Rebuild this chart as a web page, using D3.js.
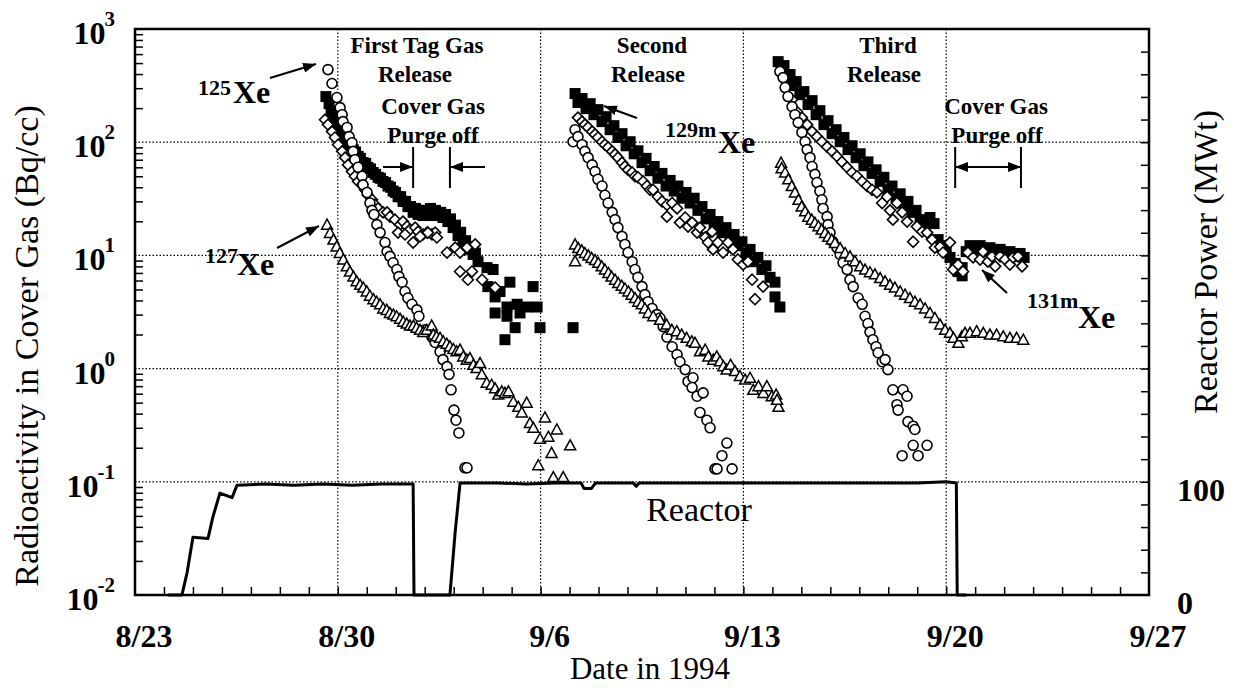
<!DOCTYPE html>
<html>
<head>
<meta charset="utf-8">
<script src="https://cdn.jsdelivr.net/npm/d3@7"></script>
<style>
  body { margin: 0; background: #fff; }
  text { font-family: "Liberation Serif", "Times New Roman", serif; fill: #000; }
</style>
</head>
<body>
<svg id="chart" width="1236" height="688"></svg>
<script>
// axis ticks
const xTickDays = [0, 7, 14, 21, 28, 35];
const xTickLabels = ["8/23", "8/30", "9/6", "9/13", "9/20", "9/27"];
const yTickValues = [0.01, 0.1, 1, 10, 100, 1000];
const yTickExps = ["-2", "-1", "0", "1", "2", "3"];
const powerTickValues = [0, 100];

// day counted from 8/23 0:00, activity in Bq/cc
// 125Xe (open circles)
const xe125 = [
  [6.66,438],[6.80,330],[6.97,248],[7.08,202],[7.15,175],[7.18,152],[7.32,135],[7.39,112],[7.49,99],[7.53,83],
  [7.59,70],[7.70,60],[7.84,50],[7.87,42],[8.01,36],[8.11,29],[8.18,25],[8.25,23],[8.35,18.7],[8.46,15.9],
  [8.63,13],[8.70,10.8],[8.80,9.8],[8.91,8.6],[9.04,7.5],[9.11,6.5],[9.22,5.8],[9.32,4.8],[9.42,4.2],[9.56,3.7],
  [9.73,3.3],[9.80,2.9],[10.01,2.2],[10.25,1.9],[10.36,1.7],[10.53,1.41],[10.63,1.2],[10.77,1.04],[10.84,0.89],
  [10.91,0.65],[11.01,0.43],[11.08,0.35],[11.18,0.27],[11.39,0.133],[11.46,0.133],
  [15.19,129],[15.12,101],[15.29,112],[15.43,95],[15.53,83],[15.64,73],[15.78,63],[15.88,55],[15.98,47],[16.12,41],
  [16.22,34],[16.33,29],[16.47,24],[16.57,20.7],[16.67,17.6],[16.81,14.7],[16.91,12.5],[17.02,10.6],[17.16,8.8],
  [17.26,7.5],[17.36,6.4],[17.50,5.3],[17.60,4.5],[17.71,3.9],[17.85,3.4],[18.02,3.0],[18.12,2.8],[18.23,2.35],
  [18.36,1.9],[18.54,1.56],[18.71,1.33],[18.81,1.15],[18.99,0.98],[19.09,0.77],[19.26,0.83],[19.23,0.68],[19.40,0.57],
  [19.61,0.61],[19.50,0.41],[19.74,0.35],[19.85,0.30],[20.43,0.22],[20.26,0.17],[20.02,0.13],[20.09,0.13],[20.61,0.13],
  [22.26,421],[22.37,372],[22.44,304],[22.54,253],[22.68,206],[22.78,175],[22.89,149],[23.02,122],[23.13,101],[23.20,86],
  [23.30,73],[23.37,61],[23.47,52],[23.54,44],[23.64,37],[23.71,31],[23.75,26],[23.89,22],[23.92,18.7],[23.99,15.9],
  [24.09,13.2],[24.23,11.7],[24.34,10.2],[24.44,8.6],[24.58,7.5],[24.68,6.1],[24.79,5.3],[24.96,4.2],[25.10,3.7],
  [25.20,2.9],[25.30,2.5],[25.37,2.1],[25.47,1.8],[25.58,1.56],[25.65,1.38],[25.79,1.15],[25.89,1.2],[25.99,0.98],
  [26.16,0.65],[26.51,0.65],[26.65,0.57],[26.30,0.48],[26.34,0.43],[26.68,0.34],[26.86,0.31],[26.92,0.29],
  [26.86,0.21],[27.34,0.21],[26.48,0.17],[27.03,0.17]
];

// 127Xe (open triangles)
const xe127 = [
  [6.63,18.7],[6.73,15.8],[6.85,13.8],[6.96,12.0],[7.07,10.5],[7.19,9.2],[7.31,8.0],[7.42,7.2],[7.54,6.5],[7.65,5.9],
  [7.77,5.5],[7.88,5.2],[8.00,4.8],[8.11,4.4],[8.23,4.1],[8.34,3.9],[8.46,3.7],[8.57,3.4],[8.69,3.3],[8.80,3.1],
  [8.92,3.0],[9.03,2.9],[9.15,2.75],[9.26,2.6],[9.38,2.5],[9.49,2.4],[9.61,2.4],[9.72,2.3],[9.84,2.2],[9.95,2.1],
  [10.07,2.2],[10.24,2.4],[10.30,2.0],[10.41,1.93],[10.53,1.87],[10.64,1.74],[10.76,1.66],[10.87,1.57],[10.99,1.49],
  [11.10,1.42],[11.22,1.47],[11.33,1.28],[11.45,1.2],[11.56,1.24],[11.68,1.08],[11.79,1.01],[11.91,1.12],[11.97,0.89],
  [12.14,0.75],[12.31,0.72],[12.43,0.67],[12.54,0.59],[12.66,0.63],[12.77,0.61],[12.89,0.63],[13.06,0.51],[13.23,0.46],
  [13.35,0.41],[13.52,0.50],[13.63,0.33],[13.75,0.30],[13.98,0.24],[14.15,0.37],[14.27,0.25],[14.38,0.18],[14.56,0.29],
  [15.02,0.21],[13.92,0.14],[14.44,0.11],[14.78,0.11],
  [15.19,12.5],[15.19,8.9],[15.30,11.6],[15.42,11.1],[15.53,10.5],[15.65,10.0],[15.76,9.5],[15.88,9.1],[15.99,8.6],
  [16.11,8.0],[16.22,7.5],[16.34,7.0],[16.45,6.5],[16.57,6.1],[16.68,5.7],[16.80,5.4],[16.91,5.1],[17.03,4.8],
  [17.14,4.5],[17.26,4.2],[17.37,3.9],[17.49,3.7],[17.60,3.4],[17.72,3.1],[17.89,2.9],[18.12,2.7],[18.35,2.45],
  [18.53,2.2],[18.70,2.14],[18.87,2.0],[19.04,1.87],[19.22,1.74],[19.33,1.69],[19.50,1.42],[19.68,1.47],[19.79,1.28],
  [19.96,1.2],[20.08,1.28],[20.19,1.16],[20.31,1.05],[20.42,0.98],[20.56,1.08],[20.71,0.95],[20.88,0.86],[21.06,0.80],
  [21.23,0.83],[21.34,0.65],[21.52,0.70],[21.69,0.61],[21.81,0.70],[21.98,0.57],[22.13,0.59],[22.21,0.46],[22.16,0.53],
  [22.30,66],[22.32,59],[22.44,54],[22.55,47],[22.67,41],[22.78,36],[22.90,31],[23.01,27],[23.13,24.5],[23.24,22],
  [23.36,20.7],[23.47,19.4],[23.59,18.1],[23.70,16.9],[23.82,15.8],[23.93,14.6],[24.05,13.8],[24.16,12.9],[24.34,11.6],
  [24.51,10.5],[24.68,9.8],[24.85,8.9],[25.03,8.0],[25.20,7.5],[25.37,7.1],[25.54,6.8],[25.72,6.3],[25.89,5.9],
  [26.06,5.5],[26.23,5.2],[26.41,4.8],[26.58,4.5],[26.75,4.2],[26.92,3.9],[27.10,3.7],[27.27,3.4],[27.44,3.1],
  [27.61,2.8],[27.79,2.45],[27.96,2.2],[28.13,2.07],[28.25,1.87],[28.42,1.69],[28.54,1.93],[28.65,2.07],[28.82,2.07],
  [29.05,2.14],[29.28,2.07],[29.51,2.0],[29.74,2.0],[29.97,1.93],[30.20,1.87],[30.43,1.87],[30.66,1.8]
];

// 129mXe (filled squares)
const xe129m = [
  [6.59,253],[6.70,219],[6.77,186],[6.87,165],[7.01,143],[7.10,130],[7.18,117],[7.27,112],[7.35,99],[7.44,95],
  [7.53,86],[7.61,82],[7.70,75],[7.78,72],[7.87,66],[7.96,65],[8.04,60],[8.13,58],[8.22,54],[8.30,52],[8.39,49],
  [8.47,48],[8.56,45],[8.65,44],[8.73,41],[8.82,40],[8.91,37],[8.99,36],[9.08,33],[9.17,33],[9.25,30],[9.34,30],
  [9.42,27],[9.51,27],[9.60,24],[9.68,26],[9.77,23],[9.86,25],[9.94,22.5],[10.03,25],[10.11,22.5],[10.20,26],
  [10.29,23],[10.37,25],[10.46,22.5],[10.55,24],[10.63,21.6],[10.72,23],[10.80,19.9],[10.89,21],[10.98,17.6],
  [11.06,18.5],[11.15,15],[11.24,16],[11.32,13],[11.41,13.5],[11.49,11.3],[11.58,12],[11.67,10.2],[11.75,10.5],
  [11.84,8.8],[12.15,7.8],[12.36,7.5],[12.18,5.3],[12.43,4.3],[12.60,4.8],[12.94,5.8],[13.74,5.3],[12.84,3.5],
  [13.19,3.7],[13.53,3.5],[13.88,3.5],[12.43,3.1],[12.84,2.9],[13.29,3.1],[13.12,2.3],[13.98,2.3],[12.77,1.8],[15.12,2.3],
  [15.19,269],[15.29,224],[15.43,243],[15.57,198],[15.71,219],[15.84,175],[15.98,194],[16.12,152],[16.26,168],
  [16.40,129],[16.53,140],[16.67,110],[16.81,119],[16.95,93],[17.09,101],[17.23,79],[17.36,84],[17.50,66],[17.64,72],
  [17.78,56],[17.92,61],[18.05,48],[18.19,53],[18.33,41],[18.47,46],[18.61,37],[18.74,41],[18.88,32],[19.02,36],
  [19.16,29],[19.30,32],[19.43,25],[19.57,27],[19.71,21],[19.85,23],[19.99,18.3],[20.12,19.9],[20.26,15.9],[20.40,17.6],
  [20.54,14.1],[20.68,15.3],[20.81,12.2],[20.95,13.2],[21.09,10.4],[21.23,11.3],[21.37,8.8],[21.50,9.6],[21.64,7.5],
  [21.78,8.1],[21.92,6.4],[22.09,5.8],[22.09,4.3],[22.26,3.5],
  [22.20,515],[22.30,438],[22.40,475],[22.51,372],[22.61,396],[22.71,316],[22.82,343],[22.95,263],[23.09,280],
  [23.23,215],[23.37,233],[23.51,175],[23.64,190],[23.78,143],[23.92,155],[24.06,119],[24.20,129],[24.34,101],
  [24.47,110],[24.61,86],[24.75,93],[24.89,73],[25.03,79],[25.16,62],[25.30,67],[25.44,53],[25.58,57],[25.72,45],
  [25.85,49],[25.99,38],[26.13,41],[26.27,32],[26.41,35],[26.54,28],[26.68,30],[26.82,24],[26.96,25],[27.10,20.7],
  [27.23,19.1],[27.44,21.6],[27.58,19.1],[27.72,13.8],[27.86,12.2],[28.00,10.8],[28.13,9.6],[28.31,8.5],[28.41,7.2],
  [28.55,7.8],[28.55,6.6],[28.69,10.8],[28.82,12.2],[29.00,11.3],[29.17,12.2],[29.34,10.8],[29.51,11.7],[29.69,10.4],
  [29.86,11.3],[30.03,10],[30.20,10.8],[30.38,9.8],[30.55,10.4],[30.69,9.6]
];

// 131mXe (open diamonds)
const xe131m = [
  [6.56,158],[6.66,143],[6.80,124],[6.90,110],[7.01,95],[7.15,83],[7.25,73],[7.35,63],[7.49,55],[7.59,50],[7.70,45],
  [7.84,42],[7.94,38],[8.04,34],[8.18,31],[8.28,28],[8.39,26],[8.56,24],[8.70,24],[8.80,22],[8.97,20.7],[9.15,18.7],
  [9.25,19.9],[9.39,18],[9.49,16.9],[9.67,17.6],[9.77,16.2],[9.94,15.3],[10.08,15.9],[10.25,15.3],[10.36,15.9],
  [9.08,15.9],[9.32,15.3],[9.60,13],[9.84,14.7],[10.11,15.9],[10.42,14.4],[10.77,10.6],[11.05,11.7],[11.22,10.6],
  [11.46,11.7],[11.74,12.5],[11.22,7.2],[11.49,6.1],[11.63,7.2],[11.98,6.1],[12.43,5.2],
  [15.29,165],[15.43,152],[15.53,143],[15.64,135],[15.78,124],[15.88,117],[15.98,110],[16.12,101],[16.22,95],
  [16.33,90],[16.47,83],[16.57,78],[16.67,73],[16.81,66],[16.91,61],[17.02,57],[17.16,54],[17.26,50],[17.36,49],
  [17.54,45],[17.67,41],[17.78,38],[17.88,38],[18.05,33],[18.19,30],[18.36,28],[18.36,22],[18.54,29],[18.71,26],
  [18.81,19.5],[18.99,21.6],[19.09,18],[19.23,19.5],[19.40,15.9],[19.50,17.6],[19.68,14.4],[19.78,13],[19.92,16.2],
  [19.95,11.3],[20.12,13],[20.30,10.6],[20.47,13],[20.64,11.3],[20.81,9.2],[20.99,8.3],[21.16,8.8],[21.30,6.1],
  [21.40,4.1],[21.68,5.3],
  [22.68,238],[22.85,186],[23.02,165],[23.20,143],[23.37,124],[23.54,112],[23.71,101],[23.89,91],[24.06,83],
  [24.23,75],[24.40,67],[24.58,60],[24.75,54],[24.92,50],[25.10,45],[25.27,41],[25.44,38],[25.61,36],[25.79,29],
  [25.96,33],[26.06,25],[26.16,20.7],[26.30,29],[26.48,24],[26.65,19.9],[26.86,13.2],[26.99,18],[27.17,16.2],
  [27.34,15.9],[27.51,13.8],[27.61,11.7],[27.79,11.9],[27.89,10.6],[28.13,13],[28.24,7.5],[28.41,8.3],[28.58,7.2],
  [28.75,10.6],[28.93,9.6],[29.17,9.2],[29.27,10.8],[29.44,8.8],[29.58,9.8],[29.69,8.0],[29.86,9.8],[30.03,9.2],
  [30.20,8.3],[30.31,9.6],[30.48,9.8],[30.62,8.0]
];

// reactor power, MWt
const reactorPower = [
  [1.14,0],[1.62,0],[1.80,20],[2.00,51],[2.52,50],[2.69,69],[2.93,90],[3.35,86],[3.52,97],[4.5,98],[5.5,97],
  [6.5,98],[7.5,97],[8.5,98],[9.60,98],[9.63,0],[10.87,0],[11.05,55],[11.22,99],[12.5,99],[13.5,98],[14.5,99],
  [15.4,99],[15.5,94],[15.75,94],[15.9,99],[17.2,99],[17.3,96],[17.4,99],[19,99],[21,99],[23,99],[25,99],[27,99],
  [28.0,100],[28.35,99],[28.38,0],[28.7,0]
];

const svg = d3.select('#chart');
const L = 135, R = 1149, T = 29, B = 595;

const x = d3.scaleLinear().domain([0, 35]).range([L, R]);
const y = d3.scaleLog().domain([0.01, 1000]).range([B, T]);
const yP = d3.scaleLinear().domain([0, 500]).range([B, T]);

// arrow head
const defs = svg.append('defs');
defs.append('marker')
    .attr('id', 'head')
    .attr('markerUnits', 'userSpaceOnUse')
    .attr('markerWidth', 13).attr('markerHeight', 10)
    .attr('refX', 13).attr('refY', 5)
    .attr('orient', 'auto-start-reverse')
  .append('path')
    .attr('d', 'M0,0 L13,5 L0,10 Z')
    .attr('fill', '#000');

// gridlines
const grid = svg.append('g').attr('stroke', '#000').attr('stroke-width', 1.2).attr('stroke-dasharray', '1.5,2');
grid.selectAll('line.vx').data(xTickDays.slice(1, -1)).join('line')
    .attr('x1', d => x(d)).attr('x2', d => x(d)).attr('y1', T).attr('y2', B);
grid.selectAll('line.hy').data(yTickValues.slice(1, -1)).join('line')
    .attr('x1', L).attr('x2', R).attr('y1', d => y(d)).attr('y2', d => y(d));

// ticks
const minorY = [];
for (let e = -2; e < 3; e++) for (let k = 2; k < 10; k++) minorY.push(k * Math.pow(10, e));
svg.append('g').attr('transform', `translate(${L},0)`)
    .call(d3.axisLeft(y).tickValues(minorY).tickSize(-8).tickFormat(''))
    .call(g => g.select('.domain').remove())
    .selectAll('line').attr('stroke-width', 1.5);
svg.append('g').attr('transform', `translate(0,${B})`)
    .call(d3.axisBottom(x).tickValues(d3.range(1, 35)).tickSize(-8).tickFormat(''))
    .call(g => g.select('.domain').remove())
    .selectAll('line').attr('stroke-width', 1.5);
svg.append('g').attr('transform', `translate(${R},0)`)
    .call(d3.axisRight(yP).tickValues(d3.range(20, 500, 20)).tickSize(-8).tickFormat(''))
    .call(g => g.select('.domain').remove())
    .selectAll('line').attr('stroke-width', 1.5);

// frame
svg.append('rect')
    .attr('x', L).attr('y', T).attr('width', R - L).attr('height', B - T)
    .attr('fill', 'none').attr('stroke', '#000').attr('stroke-width', 2.5);

// reactor line
svg.append('path')
    .datum(reactorPower)
    .attr('d', d3.line().x(d => x(d[0])).y(d => yP(d[1])))
    .attr('fill', 'none').attr('stroke', '#000').attr('stroke-width', 3).attr('stroke-linejoin', 'round');

// markers
const plot = svg.append('g');
plot.selectAll('rect.sq').data(xe129m).join('rect')
    .attr('x', d => x(d[0]) - 5.5).attr('y', d => y(d[1]) - 5.5)
    .attr('width', 11).attr('height', 11).attr('fill', '#000');

plot.selectAll('path.dm').data(xe131m).join('path')
    .attr('d', 'M0,-5.5 L5.5,0 L0,5.5 L-5.5,0 Z')
    .attr('transform', d => `translate(${x(d[0])},${y(d[1])})`)
    .attr('fill', '#fff').attr('stroke', '#000').attr('stroke-width', 1.6);

plot.selectAll('circle.ci').data(xe125).join('circle')
    .attr('cx', d => x(d[0])).attr('cy', d => y(d[1])).attr('r', 5)
    .attr('fill', '#fff').attr('stroke', '#000').attr('stroke-width', 1.6);

plot.selectAll('path.tr').data(xe127).join('path')
    .attr('d', 'M0,-5.5 L5.5,4.5 L-5.5,4.5 Z')
    .attr('transform', d => `translate(${x(d[0])},${y(d[1])})`)
    .attr('fill', '#fff').attr('stroke', '#000').attr('stroke-width', 1.5);

// tick labels
svg.selectAll('text.xl').data(xTickDays).join('text')
    .attr('x', d => x(d) + 9).attr('y', 647)
    .attr('text-anchor', 'middle').attr('font-size', 32).attr('font-weight', 'bold')
    .text((d, i) => xTickLabels[i]);

const yl = svg.selectAll('text.yl').data(yTickValues).join('text')
    .attr('x', 115).attr('y', d => y(d) + 15)
    .attr('text-anchor', 'end').attr('font-weight', 'bold');
yl.append('tspan').attr('font-size', 32).text('10');
yl.append('tspan').attr('font-size', 21).attr('dx', -1).attr('dy', -18)
    .text((d, i) => yTickExps[i]);

svg.selectAll('text.pl').data(powerTickValues).join('text')
    .attr('x', 1177).attr('y', d => yP(d) + 19)
    .attr('font-size', 32).attr('font-weight', 'bold')
    .text(d => d);

// axis titles
svg.append('text')
    .attr('transform', 'translate(38,346) rotate(-90)')
    .attr('text-anchor', 'middle').attr('font-size', 34)
    .text('Radioactivity in Cover Gas (Bq/cc)');
svg.append('text')
    .attr('transform', 'translate(1217,262) rotate(-90)')
    .attr('text-anchor', 'middle').attr('font-size', 34)
    .text('Reactor Power (MWt)');
svg.append('text')
    .attr('x', 650).attr('y', 679)
    .attr('text-anchor', 'middle').attr('font-size', 31)
    .text('Date in 1994');
svg.append('text')
    .attr('x', 699).attr('y', 521)
    .attr('text-anchor', 'middle').attr('font-size', 34)
    .text('Reactor');

// notes
const notes = [
  ['First Tag Gas', 417, 53], ['Release', 415, 82], ['Cover Gas', 433, 114], ['Purge off', 433, 143],
  ['Second', 652, 53], ['Release', 648, 82],
  ['Third', 888, 53], ['Release', 884, 82],
  ['Cover Gas', 996, 114], ['Purge off', 997, 143]
];
svg.selectAll('text.note').data(notes).join('text')
    .attr('x', d => d[1]).attr('y', d => d[2])
    .attr('text-anchor', 'middle').attr('font-size', 23).attr('font-weight', 'bold')
    .text(d => d[0]);

// isotope labels
const isotopes = [
  ['125', 198, 95, 233, 103],
  ['127', 205, 263, 237, 275],
  ['129m', 665, 137, 718, 153],
  ['131m', 1027, 308, 1078, 328]
];
isotopes.forEach(d => {
  svg.append('text').attr('x', d[1]).attr('y', d[2])
      .attr('font-size', 22).attr('font-weight', 'bold').text(d[0]);
  svg.append('text').attr('x', d[3]).attr('y', d[4])
      .attr('font-size', 32).attr('font-weight', 'bold').text('Xe');
});

// arrows
const arrows = [
  [270, 78, 316, 64, false], [277, 248, 319, 226, false],
  [637, 118, 604, 106, false], [1007, 293, 982, 270, false],
  [383, 167, 413, 167, false], [485, 167, 450, 167, false],
  [955, 167, 1021, 167, true]
];
svg.selectAll('line.arr').data(arrows).join('line')
    .attr('x1', d => d[0]).attr('y1', d => d[1]).attr('x2', d => d[2]).attr('y2', d => d[3])
    .attr('stroke', '#000').attr('stroke-width', 2)
    .attr('marker-end', 'url(#head)')
    .attr('marker-start', d => d[4] ? 'url(#head)' : null);

// purge bars
svg.selectAll('line.bar').data([9.60, 10.87, 28.31, 30.58]).join('line')
    .attr('x1', d => x(d)).attr('x2', d => x(d)).attr('y1', 147).attr('y2', 188)
    .attr('stroke', '#000').attr('stroke-width', 2);
</script>
</body>
</html>
